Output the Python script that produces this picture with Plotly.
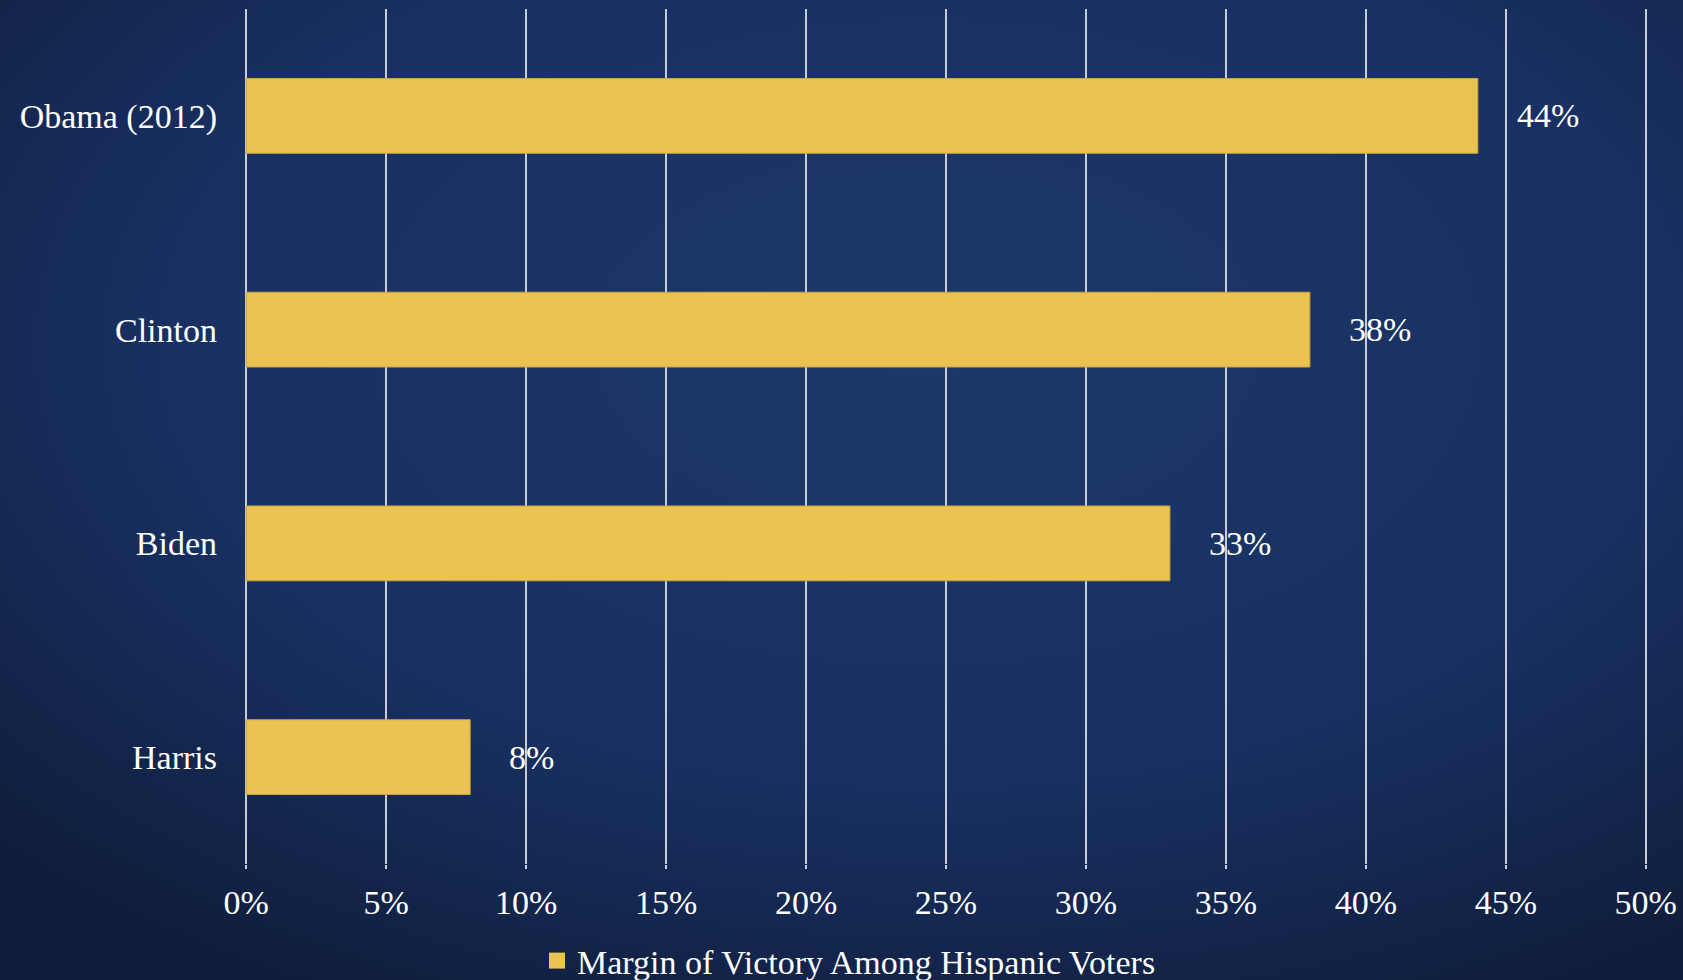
import plotly.graph_objects as go

# candidates, bottom to top as plotted
candidates = ["Harris", "Biden", "Clinton", "Obama (2012)"]
margin_pct = [8, 33, 38, 44]
series_name = "Margin of Victory Among Hispanic Voters"

tick_vals = [0, 5, 10, 15, 20, 25, 30, 35, 40, 45, 50]
tick_text = [f"{v}%" for v in tick_vals]

GOLD = "#ebc352"
GRID = "#c8ccd6"
FONT = "Liberation Serif"
FS = 34

# radial navy background as an inline svg
bg_svg = (
    "data:image/svg+xml;utf8,"
    "<svg xmlns='http://www.w3.org/2000/svg' width='1683' height='980'>"
    "<defs><radialGradient id='g' cx='0.55' cy='0.35' r='0.75'>"
    "<stop offset='0' stop-color='%231d3868'/>"
    "<stop offset='0.6' stop-color='%23183062'/>"
    "<stop offset='1' stop-color='%23101e3c'/>"
    "</radialGradient></defs>"
    "<rect width='1683' height='980' fill='url(%23g)'/></svg>"
)

L, R, T, B = 244, 35, 9, 116
PW, PH = 1683 - L - R, 980 - T - B

fig = go.Figure()
fig.add_trace(go.Bar(
    x=margin_pct, y=candidates, orientation="h",
    name=series_name,
    marker=dict(color=GOLD, line=dict(color="#c9a545", width=1)),
    showlegend=False,
))
# legend entry with a bigger square swatch
fig.add_trace(go.Scatter(
    x=[None], y=[None], mode="markers", name=series_name,
    marker=dict(symbol="square", size=16, color=GOLD),
    showlegend=True,
))

# value labels right of each bar
for c, v in zip(candidates, margin_pct):
    fig.add_annotation(x=v, y=c, text=f"{v}%", showarrow=False,
                       xanchor="left", xshift=37,
                       font=dict(family=FONT, size=FS, color="white"))

fig.update_layout(
    width=1683, height=980,
    margin=dict(l=L, r=R, t=T, b=B, autoexpand=False),
    paper_bgcolor="#142650",
    plot_bgcolor="rgba(0,0,0,0)",
    bargap=0.65,
    font=dict(family=FONT, size=FS, color="white"),
    images=[dict(source=bg_svg, xref="paper", yref="paper",
                 x=-L / PW, y=1 + T / PH, sizex=1683 / PW, sizey=980 / PH,
                 xanchor="left", yanchor="top", sizing="stretch", layer="below")],
    legend=dict(orientation="h", x=(537 - L) / PW, xanchor="left",
                y=-(961 - (980 - B)) / PH, yanchor="middle",
                font=dict(family=FONT, size=FS, color="white"),
                bgcolor="rgba(0,0,0,0)", itemsizing="trace", itemwidth=30),
    showlegend=True,
)
fig.update_xaxes(range=[-0.08, 50.08], tickvals=tick_vals, ticktext=tick_text,
                 showgrid=True, gridcolor=GRID, gridwidth=2,
                 zeroline=False, showline=False,
                 ticks="outside", ticklen=4, tickcolor=GRID, tickwidth=2,
                 ticklabelstandoff=4,
                 tickfont=dict(family=FONT, size=FS, color="white"))
fig.update_yaxes(showgrid=False, zeroline=False, showline=False,
                 ticklabelstandoff=26,
                 tickfont=dict(family=FONT, size=FS, color="white"))

fig.write_html("out.html", config={"displayModeBar": False},
               post_script="document.body.style.margin='0';document.body.style.overflow='hidden';")
